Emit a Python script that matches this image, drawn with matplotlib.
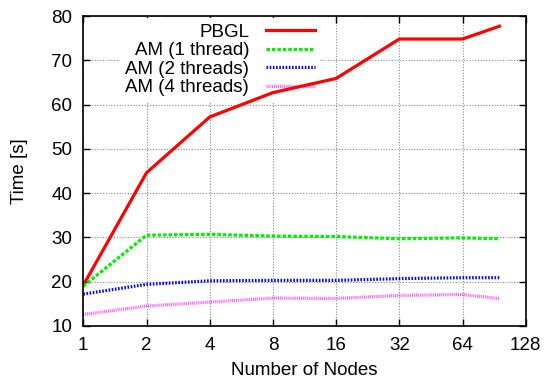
import matplotlib
matplotlib.use("Agg")
import matplotlib.pyplot as plt
from matplotlib.ticker import FixedLocator, FixedFormatter, NullLocator

plt.rcParams['font.family'] = ['Liberation Sans', 'DejaVu Sans']

nodes = [1, 2, 4, 8, 16, 32, 64, 96]
pbgl = [19.2, 44.6, 57.2, 62.7, 65.9, 74.8, 74.8, 77.7]
am1 = [19.0, 30.5, 30.7, 30.3, 30.2, 29.7, 29.9, 29.7]
am2 = [17.2, 19.4, 20.2, 20.3, 20.3, 20.7, 20.9, 20.9]
am4 = [12.6, 14.5, 15.4, 16.3, 16.2, 16.9, 17.1, 16.2]
xticks = [1, 2, 4, 8, 16, 32, 64, 128]
yticks = [10, 20, 30, 40, 50, 60, 70, 80]

FS = 13.5

fig = plt.figure(figsize=(5.47, 3.81), dpi=100)
ax = fig.add_axes([0.1523, 0.1444, 0.8088, 0.8136])

ax.plot(nodes, pbgl, color='#ff0000', lw=2.3, ls='-', label='PBGL', zorder=3)
ax.plot(nodes, am1, color='#00ee00', lw=2.3, ls=(0, (1.1, 0.6)), label='AM (1 thread)', zorder=3)
ax.plot(nodes, am2, color='#0000ff', lw=2.3, ls=(0, (0.5, 0.5)), label='AM (2 threads)', zorder=3)
ax.plot(nodes, am4, color='#ff55ff', lw=2.3, ls=(0, (0.3, 0.3)), label='AM (4 threads)', zorder=3)

ax.set_xscale('log', base=2)
ax.set_xlim(1, 128)
ax.set_ylim(10, 80)
ax.xaxis.set_major_locator(FixedLocator(xticks))
ax.xaxis.set_major_formatter(FixedFormatter([str(t) for t in xticks]))
ax.xaxis.set_minor_locator(NullLocator())
ax.set_yticks(yticks)

ax.tick_params(direction='in', top=True, right=True, length=5, width=1,
               labelsize=FS, pad=8)
ax.grid(True, ls=(0, (1, 1.5)), color='#888888', lw=0.8)
for s in ax.spines.values():
    s.set_linewidth(1.2)
    s.set_zorder(5)

ax.set_xlabel('Number of Nodes', fontsize=FS, labelpad=6)
ax.set_ylabel('Time [s]', fontsize=FS, labelpad=17)

leg = ax.legend(loc='upper right', bbox_to_anchor=(0.536, 0.993), markerfirst=False,
                frameon=True, fancybox=False, framealpha=1, edgecolor='none',
                facecolor='white', fontsize=FS, handlelength=2.6,
                handletextpad=0.9, labelspacing=0.07, borderpad=0.3,
                borderaxespad=0.0)
for t in leg.get_texts():
    t.set_ha('right')
leg.set_zorder(2.5)

fig.savefig('out.png', dpi=100)
